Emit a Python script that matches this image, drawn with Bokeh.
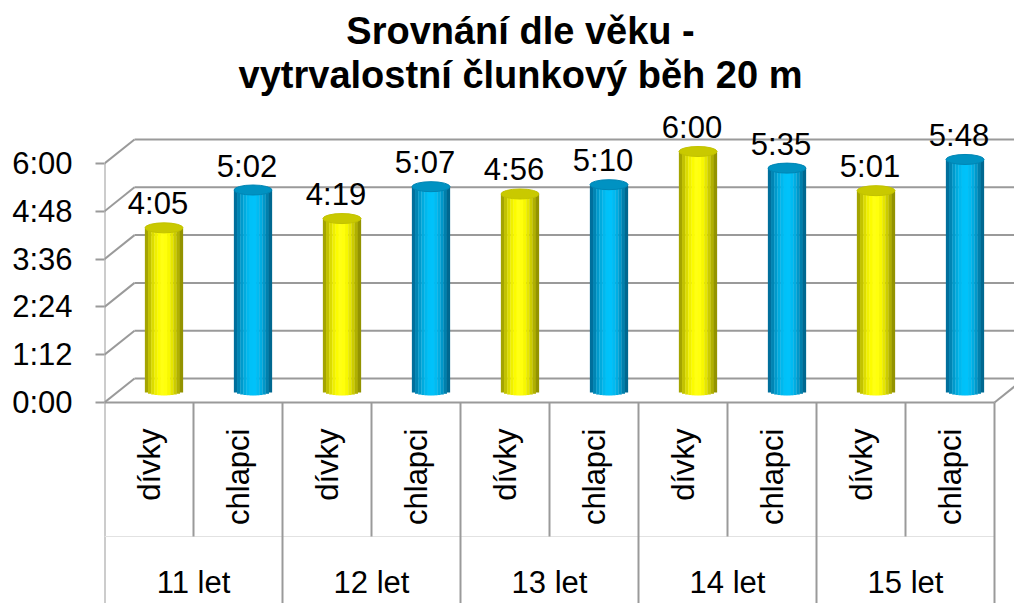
import math
from bokeh.plotting import figure
from bokeh.models import Range1d, FixedTicker
from bokeh.core.properties import value
from bokeh.embed import file_html
from bokeh.resources import INLINE

# ---------------- data ----------------
title_lines = ["Srovnání dle věku -", "vytrvalostní člunkový běh 20 m"]
groups = ["11 let", "12 let", "13 let", "14 let", "15 let"]
subgroups = ["dívky", "chlapci"]
divky_sec = [245, 259, 296, 360, 301]      # 4:05 4:19 4:56 6:00 5:01
chlapci_sec = [302, 307, 310, 335, 348]    # 5:02 5:07 5:10 5:35 5:48
tick_values = [0, 72, 144, 216, 288, 360]
tick_labels = ["0:00", "1:12", "2:24", "3:36", "4:48", "6:00"]

# ---------------- geometry ----------------
W, H = 1014, 603
LEFT = 104
PX_X = 89.0
PX_Y = 239.0 / 360.0
Y0_FIG = 402.0
x_end = (W - LEFT) / PX_X
y_end = Y0_FIG / PX_Y
y_start = y_end - H / PX_Y


def fx(page_x):
    return (page_x - LEFT) / PX_X


def fy(page_y):
    return y_end - page_y / PX_Y


DX = 30.0 / PX_X
DY = 24.0 / PX_Y
MX, MY = DX / 2, DY / 2
GRID = "#9a9a9a"
FONT = "Liberation Sans"

p = figure(width=W, height=H, x_range=Range1d(0, x_end), y_range=Range1d(y_start, y_end),
           output_backend="svg", toolbar_location=None, x_axis_location=None,
           min_border_left=LEFT, min_border_right=0, min_border_top=0, min_border_bottom=0,
           outline_line_color=None, background_fill_color="white", border_fill_color="white")
p.grid.visible = False

ax = p.yaxis[0]
ax.ticker = FixedTicker(ticks=tick_values)
ax.major_label_overrides = {v: l for v, l in zip(tick_values, tick_labels)}
ax.axis_line_color = None
ax.major_tick_out = 9
ax.major_tick_in = 0
ax.minor_tick_line_color = None
ax.major_tick_line_color = GRID
ax.major_tick_line_width = 2
ax.major_label_text_font_size = "31px"
ax.major_label_text_font = FONT
ax.major_label_text_color = "black"
ax.major_label_standoff = 23

# back wall gridlines + side diagonals
p.segment(x0=[DX] * len(tick_values), y0=[v + DY for v in tick_values],
          x1=[x_end + 1] * len(tick_values), y1=[v + DY for v in tick_values],
          line_color=GRID, line_width=2)
p.segment(x0=[0] * len(tick_values), y0=tick_values,
          x1=[DX] * len(tick_values), y1=[v + DY for v in tick_values],
          line_color=GRID, line_width=2)

ncat = len(groups) * len(subgroups)
# front axis line / floor front edge / right diagonal
p.segment(x0=[0], y0=[y_start], x1=[0], y1=[tick_values[-1]], line_color=GRID, line_width=2)
p.segment(x0=[0], y0=[0], x1=[ncat], y1=[0], line_color=GRID, line_width=2)
p.segment(x0=[ncat], y0=[0], x1=[ncat + DX], y1=[DY], line_color=GRID, line_width=2)
# faint line between inner and outer labels
p.segment(x0=[0], y0=[fy(536)], x1=[ncat], y1=[fy(536)], line_color="#e2e2e2", line_width=1)
# separators
sx, sy0, sy1 = [], [], []
for i in range(1, ncat + 1):
    sx.append(i)
    sy0.append(0)
    sy1.append(fy(536) if i % 2 == 1 else y_start)
p.segment(x0=sx, y0=sy0, x1=sx, y1=sy1, line_color=GRID, line_width=2)

# ---------------- cylinders ----------------
yellow_shades = ["#a4a400", "#c2c200", "#dcdc00", "#f0f000", "#fcfc00", "#ffff14",
                 "#ffff0c", "#f8f800", "#e6e600", "#cccc00", "#b0b000", "#939300"]
blue_shades = ["#006f9c", "#0085b4", "#009acc", "#00abde", "#00b8ee", "#00c1f8",
               "#00c2fa", "#00bbf2", "#00ade2", "#0098ca", "#0080ad", "#006890"]
top_colors = ["#c9c900", "#0092c2"]
shades = [yellow_shades, blue_shades]

BW = 38.0 / PX_X
HH = 5.0 / PX_Y   # half ellipse height in data units
NS = len(yellow_shades)

cx, vals, sub_idx = [], [], []
for g in range(len(groups)):
    for s, series in enumerate([divky_sec, chlapci_sec]):
        c = g * 2 + s
        cx.append(c + 0.5 + MX)
        vals.append(series[g])
        sub_idx.append(s)

for s in range(2):
    xs, tops, bots, cols = [], [], [], []
    for k in range(NS):
        u = ((k + 0.5) / NS) * 2 - 1
        for x0, v, si in zip(cx, vals, sub_idx):
            if si != s:
                continue
            xs.append(x0 - BW / 2 + (k + 0.5) * BW / NS)
            tops.append(v + MY)
            bots.append(MY - HH * math.sqrt(max(0.0, 1 - u * u)))
            cols.append(shades[s][k])
    p.vbar(x=xs, top=tops, bottom=bots, width=BW / NS * 1.08, fill_color=cols, line_color=None)
    ex = [x0 for x0, si in zip(cx, sub_idx) if si == s]
    ey = [v + MY for v, si in zip(vals, sub_idx) if si == s]
    p.ellipse(x=ex, y=ey, width=BW, height=10, height_units="screen",
              fill_color=top_colors[s], line_color=shades[s][1], line_width=1)

# data labels
val_labels = ["%d:%02d" % (v // 60, v % 60) for v in vals]
p.text(x=cx, y=[v + MY for v in vals], text=val_labels, x_offset=-6, y_offset=-24,
       text_align="center", text_baseline="middle", text_font=value(FONT),
       text_font_size="31px", text_color="black")

# category labels
inner_x = [c + 0.5 for c in range(ncat)]
inner_t = [subgroups[c % 2] for c in range(ncat)]
p.text(x=inner_x, y=[fy(428)] * ncat, text=inner_t, angle=math.pi / 2,
       text_align="right", text_baseline="middle", text_font=value(FONT),
       text_font_size="31px", text_color="black")
p.text(x=[2 * g + 1 for g in range(len(groups))], y=[fy(582)] * len(groups), text=groups,
       text_align="center", text_baseline="middle", text_font=value(FONT),
       text_font_size="31px", text_color="black")

# title
p.text(x=[fx(520), fx(520)], y=[fy(30), fy(74)], text=title_lines,
       text_align="center", text_baseline="middle", text_font=value(FONT),
       text_font_size="38px", text_font_style="bold", text_color="black")

open("out.html", "w").write(file_html(p, INLINE))
